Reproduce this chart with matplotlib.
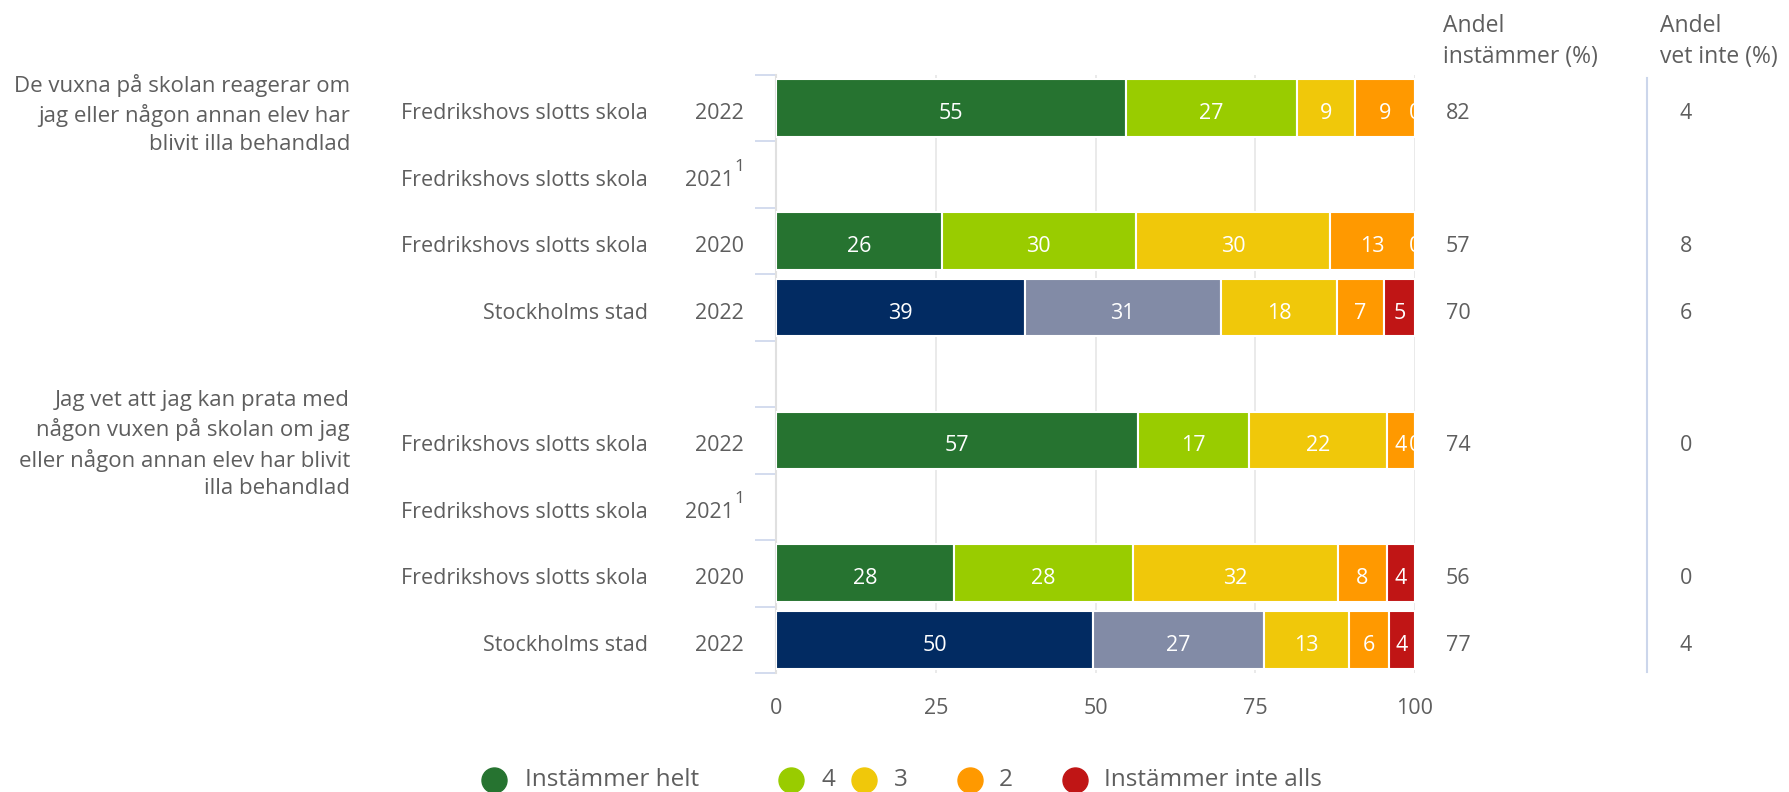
import matplotlib
matplotlib.use('Agg')
import matplotlib.pyplot as plt
from matplotlib.lines import Line2D
import numpy as np

plt.rcParams['font.family'] = ['Open Sans', 'DejaVu Sans']

# ---------------- data ----------------
questions = [
    "De vuxna på skolan reagerar om\njag eller någon annan elev har\nblivit illa behandlad",
    "Jag vet att jag kan prata med\nnågon vuxen på skolan om jag\neller någon annan elev har blivit\nilla behandlad",
]
units = ["Fredrikshovs slotts skola", "Fredrikshovs slotts skola",
         "Fredrikshovs slotts skola", "Stockholms stad"] * 2
years = ["2022", "2021", "2020", "2022"] * 2
footnotes = ["", "1", "", ""] * 2
categories = ["Instämmer helt", "4", "3", "2", "Instämmer inte alls"]

nan = np.nan
helt = [54.7, nan, 25.9, 38.9, 56.6, nan, 27.9, 49.6]
v4 = [26.8, nan, 30.4, 30.7, 17.4, nan, 28.0, 26.8]
v3 = [9.1, nan, 30.4, 18.2, 21.6, nan, 32.0, 13.2]
v2 = [9.4, nan, 13.3, 7.4, 4.4, nan, 7.7, 6.3]
inte_alls = [0.0, nan, 0.0, 4.8, 0.0, nan, 4.4, 4.1]
andel_instammer = ["82", "", "57", "70", "74", "", "56", "77"]
andel_vet_inte = ["4", "", "8", "6", "0", "", "0", "4"]
is_city = [False, False, False, True, False, False, False, True]
xticks = [0, 25, 50, 75, 100]

# ---------------- style ----------------
school_colors = ["#267330", "#99CC00", "#F0C80A", "#FF9900", "#C01515"]
city_colors = ["#022B62", "#828BA6", "#F0C80A", "#FF9900", "#C01515"]
txt = "#5E5E5E"
fs = 15.5

W, H = 1789, 792
fig = plt.figure(figsize=(W / 100, H / 100), dpi=100)
ax_left, ax_right, ax_top, ax_bot = 776, 1415, 75, 673
ax = fig.add_axes([ax_left / W, 1 - ax_bot / H, (ax_right - ax_left) / W, (ax_bot - ax_top) / H])

# slot positions: 4 rows, a gap, 4 rows
slots = [0, 1, 2, 3, 5, 6, 7, 8]
series = [helt, v4, v3, v2, inte_alls]
VA = "center_baseline"
DY = -3  # small downward nudge of row texts (pixels)

for r, y in enumerate(slots):
    left = 0.0
    cols = city_colors if is_city[r] else school_colors
    for k, s in enumerate(series):
        val = s[r]
        if np.isnan(val):
            continue
        ax.barh(y, val, left=left, height=0.87, color=cols[k],
                edgecolor="white", linewidth=1.5, zorder=3)
        t = ax.annotate(f"{round(val)}", xy=(left + val / 2, y), xytext=(0, DY),
                        textcoords="offset pixels", ha="center", va=VA,
                        color="white", fontsize=fs, zorder=5)
        t.set_clip_on(True)
        left += val

ax.set_xlim(0, 100)
ax.set_ylim(8.5, -0.5)
ax.set_xticks(xticks)
ax.set_xticklabels([str(x) for x in xticks])
ax.tick_params(axis="x", length=0, pad=18, labelsize=fs, labelcolor=txt)
ax.set_yticks([])
ax.set_yticks(np.arange(-0.5, 9.0, 1.0), minor=True)
ax.tick_params(axis="y", which="minor", length=15, width=1.2, color="#CCD6EB", direction="out")
ax.grid(axis="x", color="#E6E6E6", linewidth=1.2, zorder=0)
for sp in ["top", "bottom", "right"]:
    ax.spines[sp].set_visible(False)
ax.spines["left"].set_color("#E0E0E0")
ax.spines["left"].set_linewidth(1.5)

# left labels
for r, y in enumerate(slots):
    ax.annotate(units[r], xy=(0, y), xycoords=("axes fraction", "data"),
                xytext=(-128, DY), textcoords="offset pixels",
                ha="right", va=VA, fontsize=fs, color=txt)
    if footnotes[r]:
        ax.annotate(years[r], xy=(0, y), xycoords=("axes fraction", "data"),
                    xytext=(-42, DY), textcoords="offset pixels",
                    ha="right", va=VA, fontsize=fs, color=txt)
        ax.annotate(footnotes[r], xy=(0, y), xycoords=("axes fraction", "data"),
                    xytext=(-32, 10), textcoords="offset pixels",
                    ha="right", va=VA, fontsize=12.5, color=txt)
    else:
        ax.annotate(years[r], xy=(0, y), xycoords=("axes fraction", "data"),
                    xytext=(-32, DY), textcoords="offset pixels",
                    ha="right", va=VA, fontsize=fs, color=txt)
    ax.annotate(andel_instammer[r], xy=(1, y), xycoords=("axes fraction", "data"),
                xytext=(31, DY), textcoords="offset pixels",
                ha="left", va=VA, fontsize=fs, color=txt)
    ax.annotate(andel_vet_inte[r], xy=(1, y), xycoords=("axes fraction", "data"),
                xytext=(271, DY), textcoords="offset pixels",
                ha="center", va=VA, fontsize=fs, color=txt)

for q, y, dy in zip(questions, [slots[0], slots[4]], [-6, -4]):
    ax.annotate(q, xy=(0, y), xycoords=("axes fraction", "data"),
                xytext=(-426, dy), textcoords="offset pixels",
                ha="right", va="center", multialignment="right",
                fontsize=16, color=txt, linespacing=1.42)

# column headers
for x, (l1, l2) in [(1443, ("Andel", "instämmer (%)")), (1660, ("Andel", "vet inte (%)"))]:
    fig.text(x / W, 1 - 26 / H, l1, ha="left", va="center", fontsize=16.5, color=txt)
    fig.text(x / W, 1 - 57 / H, l2, ha="left", va="center", fontsize=16.5, color=txt)

fig.add_artist(Line2D([1647 / W, 1647 / W], [1 - 78 / H, 1 - 672 / H],
                      transform=fig.transFigure, color="#CCD6EB", linewidth=1.5))

# legend (placed item by item)
leg_marker_x = [494, 791, 864, 970, 1075]
leg_text_x = [525, 821, 894, 999, 1104]
leg_y = 1 - 780 / H
for c, lab, mx, tx in zip(school_colors, categories, leg_marker_x, leg_text_x):
    fig.add_artist(Line2D([mx / W], [leg_y], transform=fig.transFigure, marker="o",
                          linestyle="none", markersize=18, markerfacecolor=c,
                          markeredgecolor=c))
    fig.text(tx / W, 1 - 780 / H, lab, ha="left", va="center",
             fontsize=17.5, color=txt)

fig.savefig("out.png", dpi=100)
